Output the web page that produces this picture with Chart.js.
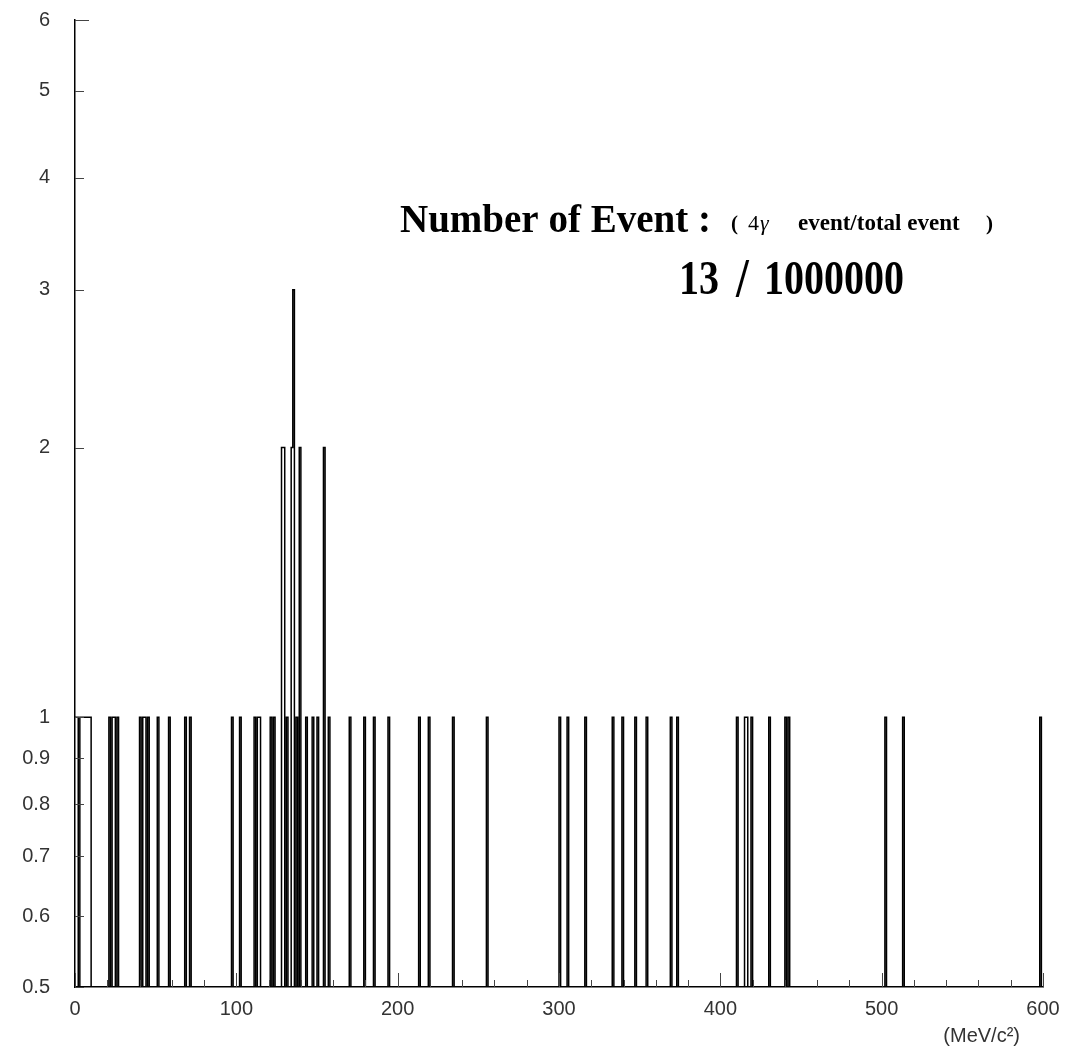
<!DOCTYPE html>
<html>
<head>
<meta charset="utf-8">
<script src="https://cdn.jsdelivr.net/npm/chart.js@4.4.1/dist/chart.umd.min.js"></script>
<style>
html,body{margin:0;padding:0;background:#fff;}
#wrap{position:relative;width:1071px;height:1063px;}
</style>
</head>
<body>
<div id="wrap"><canvas id="c" width="1071" height="1063"></canvas></div>
<script>
// ---- data ----
const binLow = [0,1,2,4,5,6,7,8,9,10,22,24,25,27,41,43,44,46,52,59,69,72,98,103,112,114,115,122,124,
  129,130,132,135,136,138,140,144,148,151,155,158,171,180,186,195,214,220,235,256,
  301,306,317,334,340,348,355,370,374,411,416,417,420,431,441,443,503,514,599];
const binCounts = [1,1,1,1,1,1,1,1,1,1,1,1,1,1,1,1,1,1,1,1,1,1,1,1,1,1,1,1,1,
  2,2,1,2,3,1,2,1,1,1,2,1,1,1,1,1,1,1,1,1,
  1,1,1,1,1,1,1,1,1,1,1,1,1,1,1,1,1,1,1];
const nBins = 600;
const xMin = 0, xMax = 600;
const yMin = 0.5, yMax = 6;
const xTickValues = [0,20,40,60,80,100,120,140,160,180,200,220,240,260,280,300,320,340,360,380,400,420,440,460,480,500,520,540,560,580,600];
const xTickLabels = ["0","100","200","300","400","500","600"];
const yTickValues = [0.5,0.6,0.7,0.8,0.9,1,2,3,4,5,6];
const yTickLabels = ["0.5","0.6","0.7","0.8","0.9","1","2","3","4","5","6"];
const xUnitLabel = "(MeV/c²)";
const titleMain = "Number of Event :";
const eventCount = "13";
const totalCount = "1000000";

// ---- build histogram outline ----
const hist = new Array(nBins).fill(0);
binLow.forEach((b, i) => { hist[b] = binCounts[i]; });
const pts = [];
for (let i = 0; i < nBins; i++) pts.push({x: i, y: hist[i] > 0 ? hist[i] : yMin});
pts.push({x: nBins, y: yMin});

const labelFont = {family: "'Liberation Sans', Arial, sans-serif", size: 20};

const decor = {
  id: 'decor',
  afterDraw(chart) {
    const ctx = chart.ctx, xs = chart.scales.x, ys = chart.scales.y, a = chart.chartArea;
    ctx.save();
    ctx.strokeStyle = '#444';
    ctx.lineWidth = 1;
    yTickValues.forEach(v => {
      const y = Math.round(ys.getPixelForValue(v)) + 0.5;
      const len = (v === yMax) ? 14 : 9;
      ctx.beginPath(); ctx.moveTo(a.left, y); ctx.lineTo(a.left + len, y); ctx.stroke();
    });
    xTickValues.forEach(v => {
      const x = Math.round(xs.getPixelForValue(v)) + 0.5;
      const len = (v % 100 === 0) ? 14 : 7;
      ctx.beginPath(); ctx.moveTo(x, a.bottom); ctx.lineTo(x, a.bottom - len); ctx.stroke();
    });
    ctx.fillStyle = '#333';
    ctx.font = "20px 'Liberation Sans', Arial, sans-serif";
    ctx.textAlign = 'right'; ctx.textBaseline = 'alphabetic';
    ctx.fillText(xUnitLabel, 1020, 1042);
    ctx.fillStyle = '#000';
    ctx.textAlign = 'left';
    ctx.font = "bold 39px 'Liberation Serif', 'Times New Roman', serif";
    ctx.fillText(titleMain, 400, 232);
    ctx.font = "bold 21px 'Liberation Serif', 'Times New Roman', serif";
    ctx.fillText("(", 731, 230);
    ctx.font = "22px 'Liberation Serif', 'Times New Roman', serif";
    ctx.fillText("4", 748, 230);
    ctx.font = "italic 22px 'Liberation Serif', 'Times New Roman', serif";
    ctx.fillText("γ", 760, 230);
    ctx.font = "bold 23px 'Liberation Serif', 'Times New Roman', serif";
    ctx.fillText("event/total event", 798, 230);
    ctx.font = "bold 21px 'Liberation Serif', 'Times New Roman', serif";
    ctx.fillText(")", 986, 230);
    const drawTall = (txt, x, y, font, sy) => {
      ctx.save(); ctx.translate(x, y); ctx.scale(1, sy);
      ctx.font = font; ctx.fillText(txt, 0, 0); ctx.restore();
    };
    drawTall(eventCount, 679, 294, "bold 40px 'Liberation Serif', 'Times New Roman', serif", 1.2);
    drawTall("/", 736, 296, "bold 46px 'Liberation Serif', 'Times New Roman', serif", 1.2);
    drawTall(totalCount, 764, 294, "bold 40px 'Liberation Serif', 'Times New Roman', serif", 1.2);
    ctx.restore();
  }
};

new Chart(document.getElementById('c'), {
  type: 'line',
  data: {
    datasets: [{
      data: pts,
      stepped: 'after',
      borderColor: '#000',
      borderWidth: 1.5,
      pointRadius: 0,
      fill: false
    }]
  },
  options: {
    responsive: false,
    animation: false,
    events: [],
    layout: {padding: {top: 20, right: 28, left: 0, bottom: 0}},
    plugins: {legend: {display: false}, tooltip: {enabled: false}},
    scales: {
      x: {
        type: 'linear', min: xMin, max: xMax,
        afterBuildTicks: s => { s.ticks = xTickValues.map(v => ({value: v})); },
        afterFit: s => { s.height = 76; s.paddingLeft = 0; s.paddingRight = 0; },
        grid: {display: false, drawTicks: false},
        border: {display: true, color: '#000', width: 1.5},
        ticks: {
          autoSkip: false, maxRotation: 0, padding: 10,
          color: '#333', font: labelFont,
          callback: v => (v % 100 === 0 ? xTickLabels[v / 100] : '')
        }
      },
      y: {
        type: 'logarithmic', min: yMin, max: yMax,
        afterBuildTicks: s => { s.ticks = yTickValues.map(v => ({value: v})); },
        afterFit: s => { s.width = 75; s.paddingTop = 0; s.paddingBottom = 0; },
        grid: {display: false, drawTicks: false},
        border: {display: true, color: '#000', width: 1.5},
        ticks: {
          autoSkip: false, padding: 25,
          color: '#333', font: labelFont,
          callback: (v, i) => yTickLabels[i]
        }
      }
    }
  },
  plugins: [decor]
});
</script>
</body>
</html>
